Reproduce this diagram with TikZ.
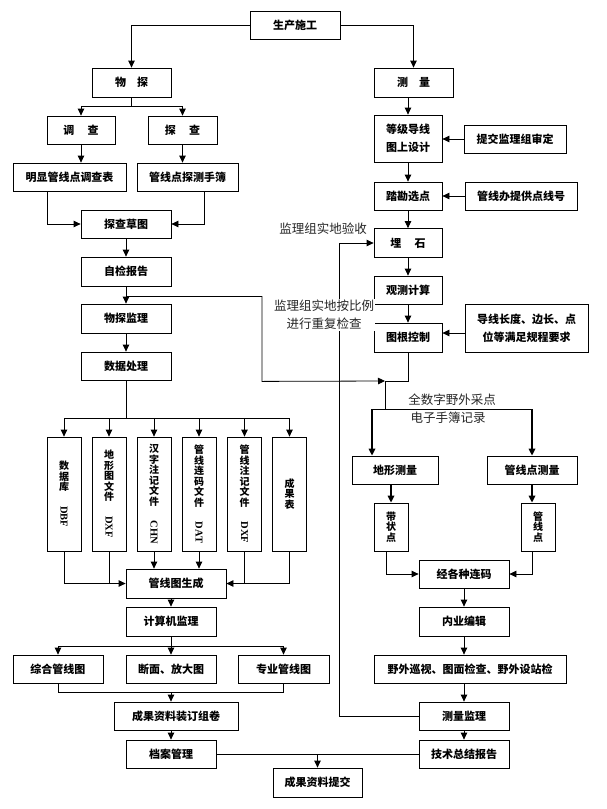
\documentclass[tikz,border=0pt]{standalone}
\usepackage{fontspec}
\setmainfont{Liberation Serif}
\newfontfamily\cjk{Noto Sans CJK SC}
\usetikzlibrary{arrows.meta, positioning, calc}

\newcommand{\latinv}[1]{\rotatebox{-90}{\rmfamily\bfseries\fontsize{10.5}{11}\selectfont #1}}

\tikzset{
	boxnode/.style={
			shape=rectangle,
			draw=black,
			line width=0.8pt,
			fill=white,
			minimum height=28pt,
			minimum width=90pt,
			inner sep=0pt,
			align=center,
			font=\cjk\bfseries\fontsize{11}{13}\selectfont
		},
	vboxnode/.style={
			boxnode,
			minimum width=34pt,
			minimum height=114pt,
			font=\cjk\bfseries\fontsize{10}{10.5}\selectfont
		},
	notetext/.style={
			align=center,
			inner sep=1pt,
			text=black!85,
			font=\cjk\fontsize{12.5}{18}\selectfont
		}
}
\tikzset{
	arr/.style={-{Triangle[length=7pt,width=6.5pt]}, line width=0.8pt},
	thickarr/.style={arr, line width=1.6pt}
}

\begin{document}
\begin{tikzpicture}[x=1pt, y=-1pt]

  \path[fill=white] (0,0) rectangle (607,809);
  \useasboundingbox (0,0) rectangle (607,809);

  \node[boxnode] (sc) at (295,25.5) {生产施工};
  \node[boxnode, minimum width=79pt, minimum height=29pt] (wt) at (131.5,82.5) {物\hspace{1em}探};
  \node[boxnode, minimum width=79pt, minimum height=29pt] (cl) at (413.5,82.5) {测\hspace{1em}量};

  \node[boxnode, minimum width=68pt] (dc) at (81,130) {调\hspace{1.2em}查};
  \node[boxnode, minimum width=69pt] (tc) at (182.5,130) {探\hspace{1.2em}查};
  \node[boxnode, minimum width=113pt] (mx) at (69.5,177) {明显管线点调查表};
  \node[boxnode, minimum width=101pt] (sb) at (187.5,177) {管线点探测手簿};
  \node[boxnode] (cg) at (126,224) {探查草图};
  \node[boxnode, minimum height=29pt] (zj) at (126,271.5) {自检报告};
  \node[boxnode, minimum height=29pt] (wj) at (126,318.5) {物探监理};
  \node[boxnode] (sj) at (126,366) {数据处理};

  \node[boxnode, minimum width=68pt, minimum height=47pt] (dj) at (408,138.5) {等级导线\\[5pt]图上设计};
  \node[boxnode, minimum width=102pt] (tj) at (515,139) {提交监理组审定};
  \node[boxnode, minimum width=68pt] (tk) at (408,196) {踏勘选点};
  \node[boxnode, minimum width=112pt] (gx) at (521,196) {管线办提供点线号};
  \node[boxnode, minimum width=68pt, minimum height=29pt] (ms) at (408,243) {埋\hspace{1.2em}石};
  \node[boxnode, minimum width=68pt] (gc) at (408,290) {观测计算};
  \node[boxnode, minimum width=68pt, minimum height=29pt] (tg) at (408,337.5) {图根控制};
  \node[boxnode, minimum width=123pt, minimum height=48pt] (dx) at (526.5,328) {导线长度、边长、点\\[5pt]位等满足规程要求};

  \node[boxnode, minimum width=86pt] (dxcl) at (395,470) {地形测量};
  \node[boxnode] (gxcl) at (532,470) {管线点测量};
  \node[vboxnode, minimum height=48pt] (dzd) at (391,527) {带\\状\\点};
  \node[vboxnode, minimum height=48pt] (gxd) at (538,527) {管\\线\\点};
  \node[boxnode] (lm) at (464,574) {经各种连码};
  \node[boxnode, minimum height=29pt] (ny) at (464,621.5) {内业编辑};
  \node[boxnode, minimum width=192pt] (yw) at (470,669) {野外巡视、图面检查、野外设站检};
  \node[boxnode] (cj) at (464,716) {测量监理};
  \node[boxnode] (js) at (464,754) {技术总结报告};

  \node[vboxnode] (v1) at (64,494) {数\\据\\库\\[5pt]\latinv{DBF}};
  \node[vboxnode] (v2) at (109,494) {地\\形\\图\\文\\件\\[5pt]\latinv{DXF}};
  \node[vboxnode] (v3) at (154,494) {汉\\字\\注\\记\\文\\件\\[5pt]\latinv{CHN}};
  \node[vboxnode] (v4) at (199,494) {管\\线\\连\\码\\文\\件\\[5pt]\latinv{DAT}};
  \node[vboxnode] (v5) at (244.5,494) {管\\线\\注\\记\\文\\件\\[5pt]\latinv{DXF}};
  \node[vboxnode] (v6) at (289.5,494) {成\\果\\表};

  \node[boxnode, minimum width=100pt, minimum height=29pt] (sc2) at (176,583.5) {管线图生成};
  \node[boxnode, minimum height=29pt] (jsj) at (171,621.5) {计算机监理};
  \node[boxnode] (zh) at (58,669) {综合管线图};
  \node[boxnode] (dm) at (171,669) {断面、放大图};
  \node[boxnode, minimum width=91pt] (zy) at (283.5,669) {专业管线图};
  \node[boxnode, minimum width=124pt] (zd) at (176,716) {成果资料装订组卷};
  \node[boxnode] (da) at (171,754) {档案管理};
  \node[boxnode, minimum width=89pt, minimum height=29pt] (tj2) at (317.5,782.5) {成果资料提交};

  \draw[arr] (sc.west) -| (wt.north);
  \draw[arr] (sc.east) -| (cl.north);
  \draw (wt.south) -- ++(0,9);
  \draw[arr] (wt.south) ++(0,9) -| (dc.north);
  \draw[arr] (wt.south) ++(0,9) -| (tc.north);
  \draw[arr] (dc.south) -- (dc.south |- mx.north);
  \draw[arr] (tc.south) -- (tc.south |- sb.north);
  \draw[arr] ([xshift=-22.5pt]mx.south) |- (cg.west);
  \draw[arr] ([xshift=16.5pt]sb.south) |- (cg.east);
  \draw[arr] (cg) -- (zj);
  \draw[arr] (zj) -- (wj);
  \draw[arr] (wj) -- (sj);

  \coordinate (jc) at (385,381);
  \draw[arr] (zj.south) ++(0,10) -- ++(136,0) -- ++(0,85) -- (jc);
  \draw (tg.south) |- (jc);
  \draw (jc) -- ++(0,28) -- ++(-13,0) coordinate (jl);
  \draw (jl) -- (jl -| gxcl.north);
  \draw[thickarr] (jl) -- (jl |- dxcl.north);
  \draw[thickarr] (jl -| gxcl.north) -- (gxcl.north);

  \draw[arr] (cl.south -| dj.north) -- (dj.north);
  \draw[arr] (dj) -- (tk);
  \draw[arr] (tk) -- (ms);
  \draw[arr] (ms) -- (gc);
  \draw[arr] (gc) -- (tg);
  \draw[arr] (tj.west) -- (tj.west -| dj.east);
  \draw[arr] (gx.west) -- (gx.west -| tk.east);
  \draw[arr] ([yshift=-5pt]dx.west) -- ([yshift=-5pt]dx.west -| tg.east);

  \draw[thickarr] (dzd.north |- dxcl.south) -- (dzd.north);
  \draw[thickarr] (gxcl.south) -- (gxcl.south |- gxd.north);
  \draw[arr] ([xshift=-5pt]dzd.south) |- (lm.west);
  \draw[arr] ([xshift=-6pt]gxd.south) |- (lm.east);
  \draw[arr] (lm) -- (ny);
  \draw[arr] (ny.south) -- (ny.south |- yw.north);
  \draw[arr] (yw.south -| cj.north) -- (cj.north);
  \draw[arr] (cj) -- (js);
  \draw[arr] (cj.west) -- ++(-79,0) |- (ms.west);

  \draw (sj.south) -- ++(0,38);
  \foreach \v in {v1,v2,v3,v4,v5,v6}
    \draw[arr] (sj.south) ++(0,38) -| (\v.north);
  \draw[arr] (v1.south) |- (sc2.west);
  \draw (v2.south) -- (v2.south |- sc2.west);
  \draw[arr] (v3.south) -- (v3.south |- sc2.north);
  \draw[arr] (v4.south) -- (v4.south |- sc2.north);
  \draw (v5.south) -- (v5.south |- sc2.east);
  \draw[arr] (v6.south) |- (sc2.east);

  \draw[arr] (jsj.north |- sc2.south) -- (jsj.north);
  \draw (jsj.south) -- ++(0,10);
  \foreach \v in {zh,dm,zy}
    \draw[arr] (jsj.south) ++(0,10) -| (\v.north);
  \draw (zh.south) -- ++(0,9) -| (zy.south);
  \draw[arr] (dm.south) ++(0,9) -- (dm.south |- zd.north);
  \draw[arr] (da.north |- zd.south) -- (da.north);
  \draw[arr] (da.east) -| (tj2.north);
  \draw (js.west) -- (js.west -| tj2.north);

  \node[notetext] (ys) at (323,229) {监理组实地验收};
  \node[notetext, fill=white] (cf) at (324,315) {监理组实地按比例\\进行重复检查};
  \node[notetext] (qs) at (452,400) {全数字野外采点};
  \node[notetext] (dz) at (448,418) {电子手簿记录};

\end{tikzpicture}
\end{document}
